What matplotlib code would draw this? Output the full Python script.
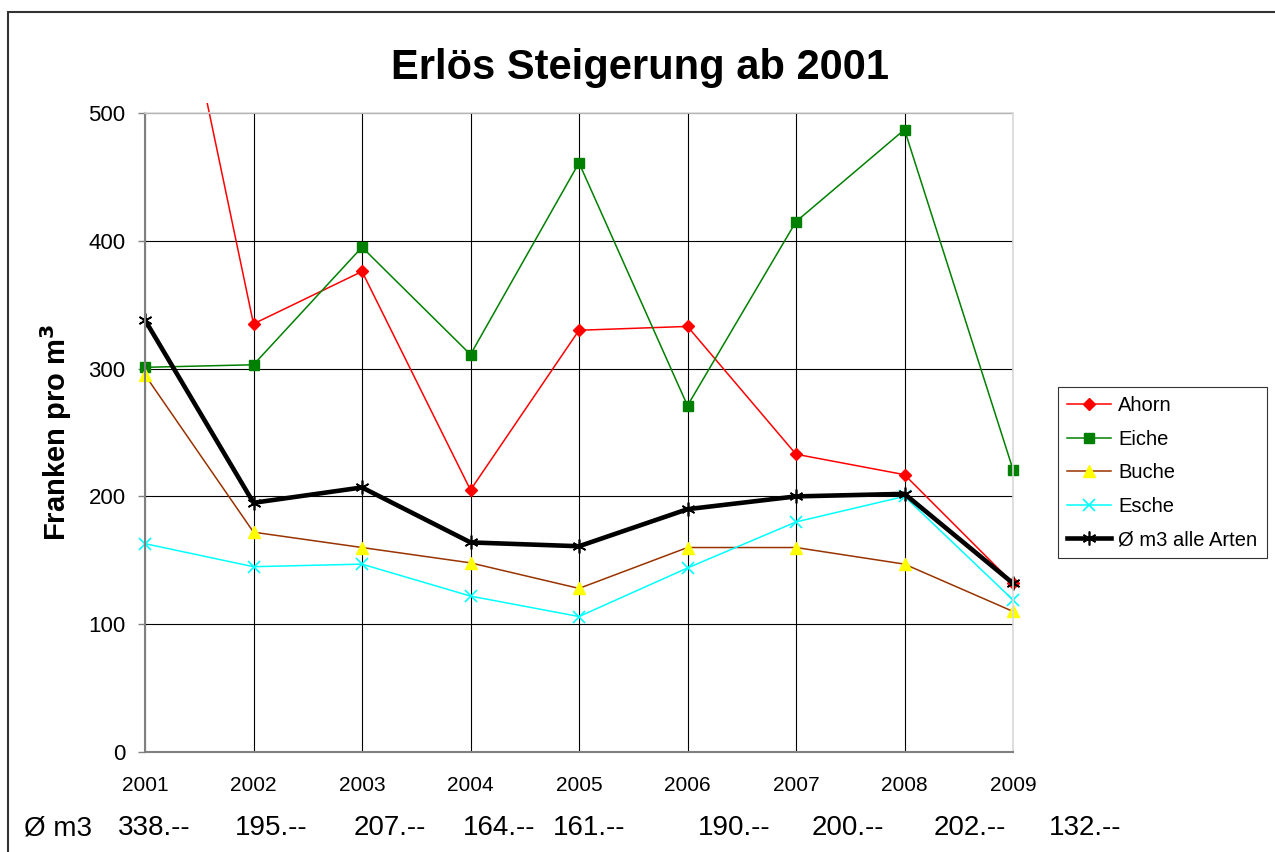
import matplotlib
matplotlib.use("Agg")
import matplotlib.pyplot as plt
from matplotlib.patches import Rectangle

plt.rcParams['font.family'] = ['Liberation Sans', 'DejaVu Sans']

# Daten (Franken pro m3)
jahre = [2001, 2002, 2003, 2004, 2005, 2006, 2007, 2008, 2009]
ahorn = [740, 335, 376, 205, 330, 333, 233, 217, 132]
eiche = [301, 303, 395, 311, 461, 271, 415, 487, 221]
buche = [295, 172, 160, 148, 128, 160, 160, 147, 110]
esche = [163, 145, 147, 122, 106, 144, 180, 200, 119]
mittel = [338, 195, 207, 164, 161, 190, 200, 202, 132]
mittel_text = ['338.--', '195.--', '207.--', '164.--', '161.--',
               '190.--', '200.--', '202.--', '132.--']
# linke Kante der Texte unten (Pixel)
mittel_x = [118, 235, 354, 463, 553, 698, 812, 934, 1049]

W, H = 1275, 852
fig = plt.figure(figsize=(W / 100, H / 100), dpi=100)
ax = fig.add_axes([145 / W, 1 - 752 / H, (1013 - 145) / W, (752 - 113) / H])

linien = []
linien += ax.plot(jahre, ahorn, color='#FF0000', lw=1.1, marker='D', ms=6, label='Ahorn')
linien += ax.plot(jahre, eiche, color='#008000', lw=1.1, marker='s', ms=7, label='Eiche')
linien += ax.plot(jahre, buche, color='#993300', lw=1.1, marker='^', ms=8,
                  mfc='#FFFF00', mec='#FFFF00', label='Buche')
linien += ax.plot(jahre, esche, color='#00FFFF', lw=1.1, marker='x', ms=8, mew=1.2,
                  label='Esche')
linien += ax.plot(jahre, mittel, color='black', lw=3.3, marker=(6, 2, 0), ms=10, mew=1.2,
                  label='Ø m3 alle Arten')

# etwas groesserer Clipbereich, damit Marker am Rand ganz sichtbar sind
clip = Rectangle((-0.02, -0.02), 1.04, 1.035, transform=ax.transAxes,
                 fill=False, visible=False)
ax.add_patch(clip)
for ln in linien:
    ln.set_clip_path(clip)

ax.set_xlim(2001, 2009)
ax.set_ylim(0, 500)
ax.set_xticks(jahre)
ax.set_yticks([0, 100, 200, 300, 400, 500])
ax.grid(True, color='black', lw=0.8)
ax.set_axisbelow(True)
ax.tick_params(axis='x', length=0, pad=17, labelsize=15)
ax.tick_params(axis='y', length=5, width=1, color='#808080', pad=9, labelsize=16)

for s in ['left', 'bottom']:
    ax.spines[s].set_color('#808080')
    ax.spines[s].set_linewidth(1.5)
for s in ['top', 'right']:
    ax.spines[s].set_color('#D9D9D9')
    ax.spines[s].set_linewidth(1.2)

ax.set_ylabel('Franken pro m$^\\mathbf{3}$', fontsize=21, fontweight='bold', labelpad=10)
fig.text(640 / W, 1 - 68 / H, 'Erlös Steigerung ab 2001', fontsize=30,
         fontweight='bold', ha='center', va='center')

leg = fig.legend(loc='upper left', bbox_to_anchor=(1058 / W, 1 - 387 / H),
                 fontsize=14.5, frameon=True, fancybox=False, edgecolor='black',
                 handlelength=2.2, handletextpad=0.35, borderpad=0.45,
                 labelspacing=0.72, borderaxespad=0)
leg.get_frame().set_linewidth(0.8)

fig.text(24 / W, 1 - 828 / H, 'Ø m3', fontsize=20, ha='left', va='center')
for xp, t in zip(mittel_x, mittel_text):
    fig.text(xp / W, 1 - 828 / H, t, fontsize=20, ha='left', va='center')

# Rahmen um das Diagramm
fig.patches.append(Rectangle((8 / W, -0.1), 1.2, 1 - 12 / H + 0.1,
                             transform=fig.transFigure, fill=False,
                             edgecolor='#333333', lw=1.5))

fig.savefig('out.png', dpi=100)
